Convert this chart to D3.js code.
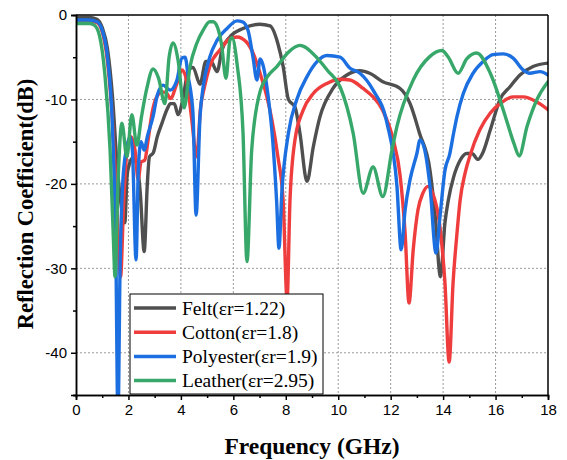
<!DOCTYPE html>
<html><head><meta charset="utf-8">
<script src="https://cdn.jsdelivr.net/npm/d3@7"></script>
<style>body{margin:0;background:#fff}svg{display:block}</style>
</head><body>
<svg id="c" width="567" height="460"></svg>
<script>
const xTicks=[0,2,4,6,8,10,12,14,16,18];
const yTicks=[0,-10,-20,-30,-40];
const seriesNames=["Felt(εr=1.22)","Cotton(εr=1.8)","Polyester(εr=1.9)","Leather(εr=2.95)"];
const seriesColors=["#4f4f4f","#ef3d3d","#1c6fe0","#37a86a"];
const felt=[[0,-0.3],[0.5,-0.3],[0.8,-0.5],[1.0,-1.5],[1.2,-4],[1.4,-10],[1.55,-17],[1.7,-22],[1.86,-24.6],[1.95,-19],[2.05,-17.5],[2.15,-17],[2.3,-17.5],[2.45,-21],[2.6,-28],[2.72,-20],[2.8,-16.8],[2.95,-16.3],[3.1,-14.4],[3.28,-12.8],[3.47,-11.2],[3.6,-10.5],[3.75,-10.5],[3.89,-11.8],[4.08,-9.9],[4.27,-6.7],[4.46,-6.2],[4.73,-8.2],[4.95,-5.5],[5.15,-5.5],[5.38,-6.7],[5.57,-4.1],[5.87,-2.6],[6.37,-1.6],[7.0,-1.1],[7.4,-1.3],[7.7,-3.4],[7.9,-6.1],[8.1,-10],[8.35,-10.9],[8.54,-14],[8.81,-19.7],[9.05,-15.6],[9.3,-12.1],[9.8,-8.7],[10.33,-7.1],[10.83,-6.6],[11.2,-6.9],[11.7,-7.9],[12.36,-8.7],[12.74,-10.5],[13.1,-14],[13.5,-18.4],[13.7,-23.9],[13.9,-31],[14.07,-24.6],[14.2,-21.9],[14.4,-19.2],[14.65,-17.2],[14.9,-16.4],[15.1,-16.4],[15.33,-17.1],[15.5,-16.4],[15.8,-13.6],[16.17,-10],[16.55,-8.5],[16.93,-7.1],[17.43,-6.1],[18,-5.7]];
const cotton=[[0,-0.7],[0.5,-0.7],[0.8,-0.9],[1.0,-2],[1.2,-5.5],[1.4,-13],[1.55,-22],[1.7,-31],[1.82,-22],[1.98,-15.2],[2.1,-14.4],[2.25,-16],[2.37,-19.5],[2.48,-17.4],[2.62,-17.2],[2.75,-14.8],[2.9,-11.6],[3.08,-9.7],[3.3,-9.1],[3.47,-9.3],[3.6,-9.9],[3.85,-8.1],[4.04,-6.5],[4.2,-7.5],[4.4,-12],[4.6,-16.8],[4.75,-11],[4.9,-8.5],[5.1,-6.1],[5.5,-4.1],[5.87,-2.8],[6.14,-2.6],[6.5,-3.2],[6.75,-4.5],[7.02,-6.9],[7.28,-9.7],[7.47,-12.4],[7.7,-16.8],[7.9,-22],[8.05,-33.7],[8.16,-22],[8.35,-14.8],[8.66,-11.3],[9.05,-9.3],[9.57,-8.1],[10.07,-7.6],[10.45,-7.7],[10.95,-8.7],[11.33,-9.7],[11.7,-11.3],[12.1,-14.8],[12.36,-19],[12.55,-25.8],[12.7,-34.1],[12.86,-27.8],[13.04,-23.1],[13.23,-21.1],[13.43,-20.3],[13.6,-21.1],[13.88,-25.1],[14.07,-31.7],[14.23,-41.1],[14.38,-31.7],[14.53,-25.8],[14.65,-21.9],[14.84,-18.7],[15.03,-16.6],[15.4,-13.6],[15.8,-11.6],[16.17,-10.5],[16.67,-9.7],[17.05,-9.7],[17.58,-10.3],[18,-11.2]];
const polyester=[[0,-0.6],[0.5,-0.6],[0.8,-0.8],[1.0,-1.8],[1.2,-5],[1.4,-14],[1.52,-28],[1.6,-48],[1.68,-30],[1.8,-19],[1.95,-15.5],[2.06,-14.4],[2.15,-16],[2.29,-29],[2.38,-18],[2.48,-15],[2.6,-16],[2.72,-14.4],[2.94,-12],[3.1,-9.5],[3.32,-8.3],[3.59,-8.9],[3.85,-7.7],[4.04,-5.1],[4.16,-5],[4.28,-7.3],[4.46,-11.6],[4.58,-23.7],[4.73,-12],[4.85,-8.5],[5.1,-5],[5.38,-3],[5.76,-1.6],[6.14,-0.7],[6.35,-0.8],[6.56,-1.8],[6.75,-5],[6.9,-7.7],[7.02,-5.2],[7.12,-5.8],[7.33,-9.7],[7.5,-14.8],[7.65,-22],[7.74,-27.6],[7.85,-21],[8.1,-14],[8.42,-10],[8.81,-7.3],[9.2,-5.5],[9.57,-4.8],[10.07,-5],[10.45,-6.3],[10.83,-6.9],[11.33,-8.9],[11.86,-12.8],[12.24,-20.3],[12.4,-27.8],[12.55,-23.1],[12.74,-19.5],[13.0,-16.4],[13.12,-14.8],[13.3,-16],[13.5,-20.3],[13.73,-28.2],[13.88,-23.9],[14.07,-18.4],[14.25,-16.5],[14.4,-14],[14.53,-12],[14.77,-9.3],[15.14,-6.9],[15.53,-5.5],[15.9,-4.7],[16.29,-4.6],[16.67,-5.1],[17.05,-6.5],[17.3,-6.9],[17.7,-6.7],[18,-7.1]];
const leather=[[0,-1.0],[0.5,-1.0],[0.7,-1.2],[0.9,-2.5],[1.1,-7],[1.3,-16],[1.42,-26],[1.49,-31],[1.6,-20],[1.75,-12.8],[1.94,-16.8],[2.13,-11.8],[2.32,-15.4],[2.5,-12],[2.7,-8.7],[2.94,-6.4],[3.15,-7.5],[3.39,-10.5],[3.55,-5],[3.7,-3.3],[3.9,-5.5],[4.12,-11],[4.35,-6.1],[4.6,-3.4],[4.85,-1.8],[5.1,-0.8],[5.23,-0.8],[5.4,-1.5],[5.55,-3.5],[5.72,-7.5],[5.87,-3],[5.95,-2.7],[6.15,-6],[6.37,-14],[6.52,-29.2],[6.7,-16],[7.0,-9.3],[7.3,-7.3],[7.66,-6.1],[8.1,-4.4],[8.54,-3.6],[9.2,-5.1],[9.6,-6.6],[10.07,-8.5],[10.57,-14],[10.95,-21.1],[11.33,-18],[11.7,-21.5],[12.05,-16],[12.24,-13.2],[12.86,-7.7],[13.5,-4.9],[13.95,-4.2],[14.2,-5],[14.57,-6.9],[14.9,-5.2],[15.28,-4.5],[15.8,-6.9],[16.3,-11.3],[16.7,-15.2],[16.9,-16.7],[17.2,-13.2],[17.58,-10],[18,-7.9]];
const allSeries=[felt,cotton,polyester,leather];

const L=76,R=548,T=15,B=395;
const svg=d3.select("#c");
const x=d3.scaleLinear().domain([0,18]).range([L,R]);
const y=d3.scaleLinear().domain([-45,0]).range([B,T]);

// grid
const g=svg.append("g");
g.selectAll(".gx").data(xTicks.filter(d=>d>0&&d<18)).enter().append("line")
 .attr("x1",d=>x(d)).attr("x2",d=>x(d)).attr("y1",T).attr("y2",B)
 .attr("stroke","#9a9a9a").attr("stroke-width",1).attr("stroke-dasharray","2,2");
g.selectAll(".gy").data(yTicks.filter(d=>d<0)).enter().append("line")
 .attr("x1",L).attr("x2",R).attr("y1",d=>y(d)).attr("y2",d=>y(d))
 .attr("stroke","#9a9a9a").attr("stroke-width",1).attr("stroke-dasharray","2,2");

svg.append("defs").append("clipPath").attr("id","clip").append("rect")
 .attr("x",L).attr("y",T).attr("width",R-L).attr("height",B-T);

const line=d3.line().x(d=>x(d[0])).y(d=>y(d[1])).curve(d3.curveMonotoneX);
const lg=svg.append("g").attr("clip-path","url(#clip)");
allSeries.forEach((s,i)=>{
  lg.append("path").attr("d",line(s)).attr("fill","none")
   .attr("stroke",seriesColors[i]).attr("stroke-width",3.4)
   .attr("stroke-linejoin","round").attr("stroke-linecap","round");
});

// frame top/right
svg.append("line").attr("x1",L).attr("x2",R).attr("y1",T).attr("y2",T).attr("stroke","#000").attr("stroke-width",1.5);
svg.append("line").attr("x1",R).attr("x2",R).attr("y1",T).attr("y2",B).attr("stroke","#000").attr("stroke-width",1.5);

// axes
const xAxis=d3.axisBottom(x).tickValues(xTicks).tickSize(5).tickPadding(4).tickFormat(d3.format("d"));
const xMinor=d3.axisBottom(x).tickValues(d3.range(1,18,2)).tickSize(3).tickFormat("");
const yAxis=d3.axisLeft(y).tickValues(yTicks).tickSize(5).tickPadding(4).tickFormat(d=>d===0?"0":d3.format("d")(d).replace("−","-"));
const yMinor=d3.axisLeft(y).tickValues([-5,-15,-25,-35,-45]).tickSize(3).tickFormat("");
function style(sel){sel.select(".domain").attr("stroke","#000").attr("stroke-width",1.5);
 sel.selectAll(".tick line").attr("stroke","#000").attr("stroke-width",1.5);
 sel.selectAll("text").attr("font-family","'Liberation Sans',Arial,sans-serif").attr("font-size","15px").attr("fill","#000");}
svg.append("g").attr("transform",`translate(0,${B})`).call(xMinor).call(style);
svg.append("g").attr("transform",`translate(0,${B})`).call(xAxis).call(style);
svg.append("g").attr("transform",`translate(${L},0)`).call(yMinor).call(style);
svg.append("g").attr("transform",`translate(${L},0)`).call(yAxis).call(style);

// titles
svg.append("text").attr("x",(L+R)/2).attr("y",454).attr("text-anchor","middle")
 .attr("font-family","'Liberation Serif','Times New Roman',serif").attr("font-weight","bold").attr("font-size","23.5px")
 .text("Frequency (GHz)");
svg.append("text").attr("transform","translate(33,204) rotate(-90)").attr("text-anchor","middle")
 .attr("font-family","'Liberation Serif','Times New Roman',serif").attr("font-weight","bold").attr("font-size","22.5px")
 .text("Reflection Coefficient(dB)");

// legend
const leg=svg.append("g");
leg.append("rect").attr("x",130).attr("y",294).attr("width",193).attr("height",100)
 .attr("fill","#fff").attr("stroke","#000").attr("stroke-width",1);
seriesNames.forEach((n,i)=>{
  const yy=308+i*24.2;
  leg.append("line").attr("x1",134).attr("x2",176).attr("y1",yy).attr("y2",yy)
   .attr("stroke",seriesColors[i]).attr("stroke-width",3.5);
  leg.append("text").attr("x",182).attr("y",yy+6.5).attr("font-family","'Liberation Serif','Times New Roman',serif")
   .attr("font-size","19.5px").attr("fill","#000").text(n);
});
</script>
</body></html>
